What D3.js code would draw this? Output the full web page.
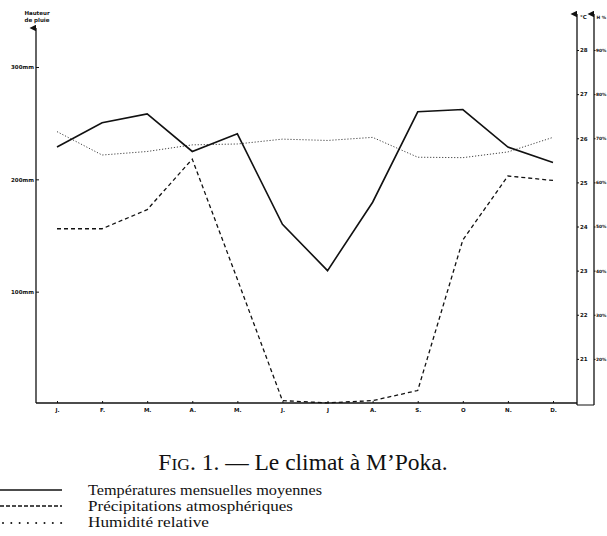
<!DOCTYPE html>
<html>
<head>
<meta charset="utf-8">
<script src="https://cdn.jsdelivr.net/npm/d3@7"></script>
<style>
  body { margin: 0; background: #fff; }
  .tiny { font-family: "DejaVu Sans", sans-serif; font-size: 5.5px; font-weight: bold; fill: #111; }
  .tiny-narrow { font-family: "DejaVu Sans", sans-serif; font-size: 4.4px; font-weight: bold; fill: #111; }
  .serif { font-family: "Liberation Serif", "DejaVu Serif", serif; fill: #111; }
</style>
</head>
<body>
<div id="chart"></div>
<script>
// Month labels (as printed)
const months = ['J.', 'F.', 'M.', 'A.', 'M.', 'J.', 'J', 'A.', 'S.', 'O', 'N.', 'D.']

// Températures mensuelles moyennes (°C)
const temperature = [25.8, 26.35, 26.55, 25.7, 26.1, 24.05, 23.0, 24.55, 26.6, 26.65, 25.8, 25.45]

// Précipitations atmosphériques (mm)
const rainfall = [156, 156, 173, 218, 111, 3, 1, 3, 12, 146, 203, 199]

// Humidité relative (%)
const humidity = [71.5, 66.2, 67.0, 68.5, 68.7, 69.8, 69.5, 70.2, 65.7, 65.6, 66.9, 70.2]

// Tick values
const rainTicks = [100, 200, 300]
const tempTicks = [21, 22, 23, 24, 25, 26, 27, 28]
const humTicks = [20, 30, 40, 50, 60, 70, 80, 90]

const width = 607
const height = 536

let svg = d3.select('#chart').append('svg')
    .attr('width', width)
    .attr('height', height)

// Scales
let x = d3.scalePoint()
    .domain(d3.range(months.length))
    .range([57, 553])

let yRain = d3.scaleLinear().domain([0, 300]).range([404, 67])
let yTemp = d3.scaleLinear().domain([20, 28]).range([403, 50])
let yHum = d3.scaleLinear().domain([10, 90]).range([403, 50])

const leftX = 36
const tempX = 577
const humX = 594
const baseY = 403

// Arrow head
svg.append('defs').append('marker')
    .attr('id', 'arrow')
    .attr('viewBox', '0 0 6 6')
    .attr('refX', 3).attr('refY', 6)
    .attr('markerWidth', 5).attr('markerHeight', 6)
    .attr('orient', 'auto-start-reverse')
    .append('path')
    .attr('d', 'M0,6 L3,0 L6,6 Z')
    .attr('fill', '#111')

// Left axis (rain)
svg.append('line')
    .attr('x1', leftX).attr('x2', leftX)
    .attr('y1', baseY).attr('y2', 28)
    .attr('stroke', '#111').attr('stroke-width', 1.3)
    .attr('marker-end', 'url(#arrow)')

let leftAxis = d3.axisLeft(yRain)
    .tickValues(rainTicks)
    .tickSize(-3)
    .tickSizeOuter(0)
    .tickPadding(2)
    .tickFormat(d => d + 'mm')

svg.append('g')
    .attr('transform', 'translate(' + leftX + ',0)')
    .call(leftAxis)
    .call(g => g.select('.domain').remove())
    .call(g => g.selectAll('line').attr('stroke', '#111'))
    .call(g => g.selectAll('text').attr('class', 'tiny').attr('font-family', null).attr('font-size', null))

svg.append('text').attr('class', 'tiny')
    .attr('x', leftX + 1).attr('y', 15)
    .attr('text-anchor', 'middle')
    .text('Hauteur')
svg.append('text').attr('class', 'tiny')
    .attr('x', leftX + 1).attr('y', 21.5)
    .attr('text-anchor', 'middle')
    .text('de pluie')

// Bottom axis
svg.append('line')
    .attr('x1', leftX).attr('x2', tempX)
    .attr('y1', baseY).attr('y2', baseY)
    .attr('stroke', '#111').attr('stroke-width', 1.3)

let bottomAxis = d3.axisBottom(x)
    .tickSize(-2)
    .tickSizeOuter(0)
    .tickPadding(5)
    .tickFormat(i => months[i])

svg.append('g')
    .attr('transform', 'translate(0,' + baseY + ')')
    .call(bottomAxis)
    .call(g => g.select('.domain').remove())
    .call(g => g.selectAll('line').attr('stroke', '#111'))
    .call(g => g.selectAll('text').attr('class', 'tiny').attr('font-family', null).attr('font-size', null))

// Right axes (temperature, humidity)
svg.append('line')
    .attr('x1', tempX).attr('x2', tempX)
    .attr('y1', baseY + 2).attr('y2', 14)
    .attr('stroke', '#111').attr('stroke-width', 1.3)
    .attr('marker-end', 'url(#arrow)')

svg.append('line')
    .attr('x1', humX).attr('x2', humX)
    .attr('y1', baseY + 2).attr('y2', 14)
    .attr('stroke', '#111').attr('stroke-width', 1.3)
    .attr('marker-end', 'url(#arrow)')

svg.append('line')
    .attr('x1', tempX).attr('x2', humX)
    .attr('y1', baseY + 2).attr('y2', baseY + 2)
    .attr('stroke', '#111').attr('stroke-width', 1)

let tempAxis = d3.axisRight(yTemp)
    .tickValues(tempTicks)
    .tickSize(2)
    .tickSizeOuter(0)
    .tickPadding(1)

svg.append('g')
    .attr('transform', 'translate(' + tempX + ',0)')
    .call(tempAxis)
    .call(g => g.select('.domain').remove())
    .call(g => g.selectAll('line').attr('stroke', '#111'))
    .call(g => g.selectAll('text').attr('class', 'tiny').attr('font-family', null).attr('font-size', null))

let humAxis = d3.axisRight(yHum)
    .tickValues(humTicks)
    .tickSize(1.5)
    .tickSizeOuter(0)
    .tickPadding(0.5)
    .tickFormat(d => d + '%')

svg.append('g')
    .attr('transform', 'translate(' + humX + ',0)')
    .call(humAxis)
    .call(g => g.select('.domain').remove())
    .call(g => g.selectAll('line').attr('stroke', '#111'))
    .call(g => g.selectAll('text').attr('class', 'tiny-narrow').attr('font-family', null).attr('font-size', null))

svg.append('text').attr('class', 'tiny')
    .attr('x', tempX + 3).attr('y', 19)
    .text('°C')
svg.append('text').attr('class', 'tiny-narrow')
    .attr('x', humX + 2.5).attr('y', 19)
    .text('H %')

// Series lines
let line = (scale) => d3.line()
    .x((d, i) => x(i))
    .y(d => scale(d))

svg.append('path')
    .datum(humidity)
    .attr('d', line(yHum))
    .attr('fill', 'none')
    .attr('stroke', '#444')
    .attr('stroke-width', 1)
    .attr('stroke-dasharray', '1.2,1.8')

svg.append('path')
    .datum(rainfall)
    .attr('d', line(yRain))
    .attr('fill', 'none')
    .attr('stroke', '#111')
    .attr('stroke-width', 1.3)
    .attr('stroke-dasharray', '4,3')

svg.append('path')
    .datum(temperature)
    .attr('d', line(yTemp))
    .attr('fill', 'none')
    .attr('stroke', '#111')
    .attr('stroke-width', 1.6)
    .attr('stroke-linejoin', 'miter')

// Caption
let caption = svg.append('text')
    .attr('class', 'serif')
    .attr('x', 303).attr('y', 470)
    .attr('text-anchor', 'middle')
    .attr('font-size', 23.5)
caption.append('tspan').text('F')
caption.append('tspan').attr('font-size', 17.5).text('IG')
caption.append('tspan').text('. 1. — Le climat à M’Poka.')

// Legend
const legendRows = [
    { label: 'Températures mensuelles moyennes', dash: null, width: 1.6, len: 234 },
    { label: 'Précipitations atmosphériques', dash: '4,2', width: 1.3, len: 205 },
    { label: 'Humidité relative', dash: 'dots', width: 1, len: 121 }
]

let legend = svg.append('g')
legendRows.forEach((row, i) => {
    let yy = 490 + i * 16
    if (row.dash === 'dots') {
        legend.selectAll('circle.dot')
            .data(d3.range(8))
            .join('circle')
            .attr('class', 'dot')
            .attr('cx', d => 3 + d * 8.3)
            .attr('cy', yy + 1)
            .attr('r', 1)
            .attr('fill', '#111')
    } else {
        legend.append('line')
            .attr('x1', 0).attr('x2', 62)
            .attr('y1', yy).attr('y2', yy)
            .attr('stroke', '#111')
            .attr('stroke-width', row.width)
            .attr('stroke-dasharray', row.dash)
    }
    legend.append('text')
        .attr('class', 'serif')
        .attr('x', 88).attr('y', yy + 4.5)
        .attr('font-size', 13.8)
        .attr('textLength', row.len)
        .attr('lengthAdjust', 'spacingAndGlyphs')
        .text(row.label)
})
</script>
</body>
</html>
